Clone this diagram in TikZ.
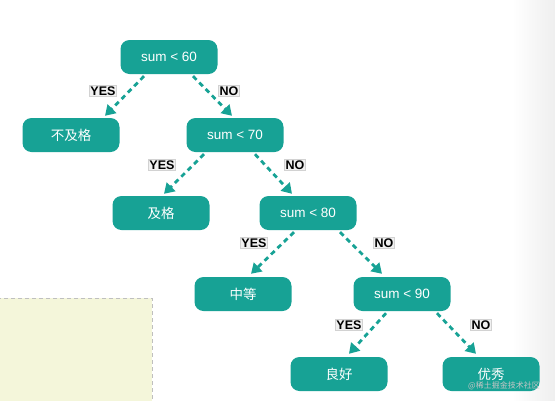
\documentclass[tikz,border=0pt]{standalone}
\usepackage{fontspec}
\setmainfont{Liberation Sans}
\newfontfamily\cjk{Noto Sans CJK SC}
\usetikzlibrary{arrows.meta,calc}
\definecolor{teal1}{HTML}{17A295}
\definecolor{boxfill}{HTML}{F4F6DA}
\tikzset{
  dec/.style={fill=teal1, rounded corners=9pt, minimum width=97pt, minimum height=34pt,
    text=white, font=\fontsize{13.5}{14}\selectfont, inner sep=0pt},
  leaf/.style={dec, font=\cjk\fontsize{13.5}{14}\selectfont},
  lab/.style={fill=gray!12, draw=gray!35, line width=0.3pt, inner sep=1pt,
    font=\bfseries\fontsize{12.5}{13}\selectfont, text=black},
  edge/.style={teal1, line width=2.8pt, dash pattern=on 5pt off 4pt,
    -{Triangle[length=10pt,width=12pt]}}
}
\begin{document}
\begin{tikzpicture}[x=1pt,y=-1pt]
\useasboundingbox (0,0) rectangle (555,400);
% right grey strip
\shade[left color=white, right color=gray!13, draw=none] (512,0) rectangle (555,400);
% dashed box bottom-left
\draw[fill=boxfill, draw=gray!50, line width=1pt, dash pattern=on 4pt off 3pt] (-3,298) rectangle (152,404);
% nodes
\node[dec] (n60) at (169,57) {sum < 60};
\node[leaf] (fail) at (71,135) {不及格};
\node[dec] (n70) at (235,135) {sum < 70};
\node[leaf] (pass) at (161,213) {及格};
\node[dec] (n80) at (308,213) {sum < 80};
\node[leaf] (mid) at (243,294) {中等};
\node[dec] (n90) at (402,294) {sum < 90};
\node[leaf] (good) at (339,374) {良好};
\node[leaf] (exc) at (491,374) {优秀};
% edges
\draw[edge] ($(n60.south)+(-25,2)$) -- ($(fail.north)+(34,-2)$);
\draw[edge] ($(n60.south)+(24,2)$) -- ($(n70.north)+(-3,-2)$);
\draw[edge] ($(n70.south)+(-31,2)$) -- ($(pass.north)+(3,-2)$);
\draw[edge] ($(n70.south)+(20,2)$) -- ($(n80.north)+(-16,-2)$);
\draw[edge] ($(n80.south)+(-14,2)$) -- ($(mid.north)+(8,-3)$);
\draw[edge] ($(n80.south)+(32,2)$) -- ($(n90.north)+(-20,-3)$);
\draw[edge] ($(n90.south)+(-16,2)$) -- ($(good.north)+(10,-3)$);
\draw[edge] ($(n90.south)+(35,2)$) -- ($(exc.north)+(-15,-3)$);
% labels
\node[lab] (l1) at (103,91) {YES};
\node[lab] (l2) at (229,91) {NO};
\node[lab] (l3) at (162,165) {YES};
\node[lab] (l4) at (295,165) {NO};
\node[lab] (l5) at (254,243) {YES};
\node[lab] (l6) at (384,243) {NO};
\node[lab] (l7) at (349,325) {YES};
\node[lab] (l8) at (481,325) {NO};
% watermark
\node[text=gray!45, font=\cjk\fontsize{8}{9}\selectfont, inner sep=0pt] (wm) at (504,386) {@稀土掘金技术社区};
\end{tikzpicture}
\end{document}
